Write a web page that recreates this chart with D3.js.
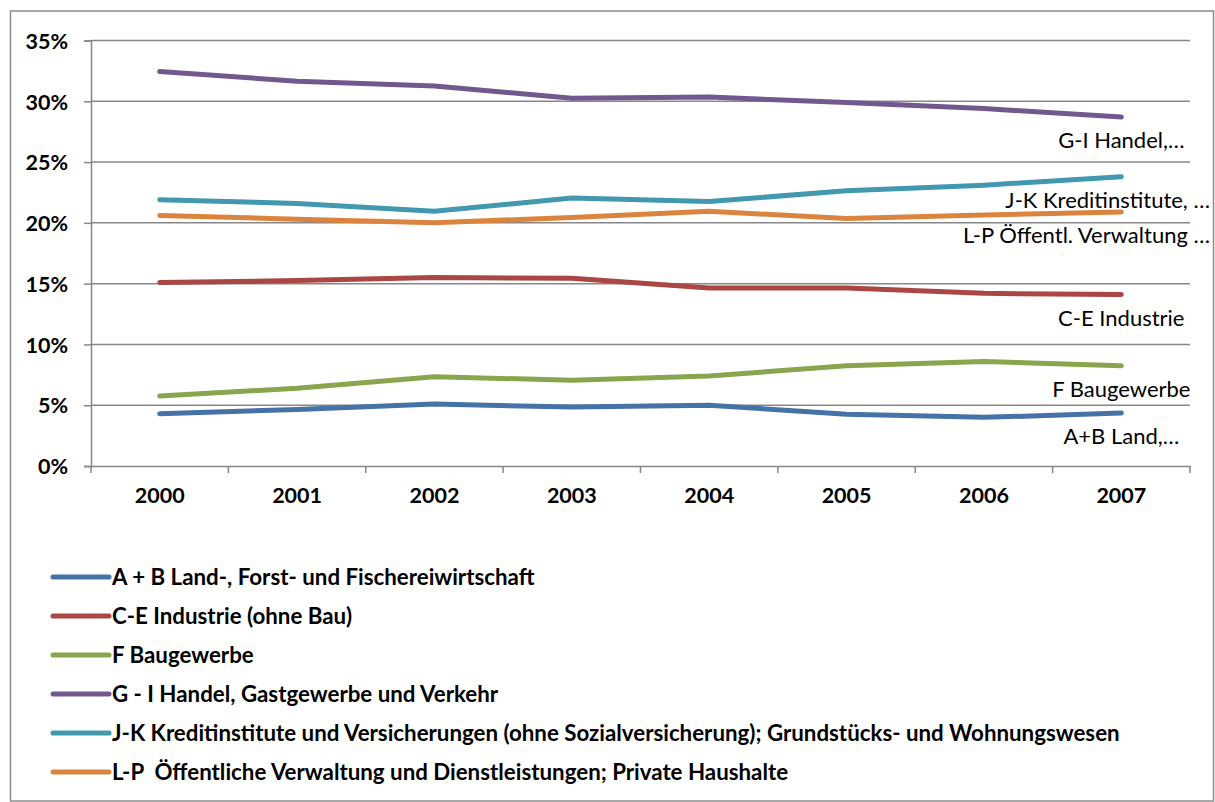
<!DOCTYPE html>
<html lang="de">
<head>
<meta charset="UTF-8">
<title>Anteile Wirtschaftsbereiche</title>
<script src="https://d3js.org/d3.v7.min.js"></script>
<style>
body { margin: 0; background: #fff; }
text { font-family: Lato, "Open Sans", sans-serif; fill: #000; }
.axislabel { font-weight: bold; font-size: 21.5px; }
.legend text { font-weight: bold; font-size: 22.3px; white-space: pre; }
.endlabel { font-size: 22px; }
</style>
</head>
<body>
<div id="chart"></div>
<script>
// data
const years = ['2000', '2001', '2002', '2003', '2004', '2005', '2006', '2007']
const yTicks = [0, 5, 10, 15, 20, 25, 30, 35]

const landForst   = [4.3, 4.65, 5.1, 4.85, 5.0, 4.25, 4.0, 4.35]
const industrie   = [15.1, 15.25, 15.5, 15.45, 14.65, 14.65, 14.2, 14.1]
const baugewerbe  = [5.75, 6.4, 7.35, 7.05, 7.4, 8.25, 8.6, 8.25]
const handel      = [32.45, 31.65, 31.25, 30.25, 30.35, 29.9, 29.4, 28.7]
const kredit      = [21.9, 21.6, 20.95, 22.05, 21.75, 22.65, 23.1, 23.8]
const verwaltung  = [20.6, 20.3, 20.0, 20.45, 20.95, 20.35, 20.65, 20.9]

const seriesNames = [
  'A + B Land-, Forst- und Fischereiwirtschaft',
  'C-E Industrie (ohne Bau)',
  'F Baugewerbe',
  'G - I Handel, Gastgewerbe und Verkehr',
  'J-K Kreditinstitute und Versicherungen (ohne Sozialversicherung); Grundstücks- und Wohnungswesen',
  'L-P  Öffentliche Verwaltung und Dienstleistungen; Private Haushalte'
]
const endLabels = ['A+B Land,…', 'C-E Industrie', 'F Baugewerbe', 'G-I Handel,…', 'J-K Kreditinstitute, …', 'L-P Öffentl. Verwaltung …']
const colors = ['#4572A7', '#AA4643', '#89A54E', '#71588F', '#4198AF', '#DB843D']

let series = [landForst, industrie, baugewerbe, handel, kredit, verwaltung].map((v, i) => ({
  name: seriesNames[i], label: endLabels[i], color: colors[i], values: v
}))

const width = 1215, height = 802
const plot = {left: 91, right: 1190, top: 40.5, bottom: 466}
let gridColor = '#878787'

let svg = d3.select('#chart').append('svg')
  .attr('width', width).attr('height', height)

// outer frame
svg.append('rect')
  .attr('x', 10.5).attr('y', 11).attr('width', 1203).attr('height', 790)
  .attr('fill', 'none').attr('stroke', '#8c8c8c').attr('stroke-width', 1.5)

let x = d3.scaleBand().domain(years).range([plot.left, plot.right])
let y = d3.scaleLinear().domain([0, 35]).range([plot.bottom, plot.top])

function drawGrid() {
  svg.append('g').selectAll('line')
    .data(yTicks.filter(d => d > 0))
    .join('line')
      .attr('x1', plot.left).attr('x2', plot.right)
      .attr('y1', d => y(d)).attr('y2', d => y(d))
      .attr('stroke', gridColor).attr('stroke-width', 1.5)
}

function drawYaxis() {
  let ax = svg.append('g')
    .attr('transform', 'translate(' + plot.left + ',0)')
    .call(d3.axisLeft(y).tickValues(yTicks).tickSize(7).tickPadding(16).tickFormat(d => d + '%'))
  ax.select('.domain').attr('stroke', gridColor).attr('stroke-width', 1.5)
  ax.selectAll('.tick line').attr('stroke', gridColor).attr('stroke-width', 1.5)
  ax.selectAll('.tick text').attr('class', 'axislabel').attr('dy', '0.36em')
}

function drawXaxis() {
  let ax = svg.append('g')
    .attr('transform', 'translate(0,' + plot.bottom + ')')
    .call(d3.axisBottom(x).tickSize(0).tickPadding(22))
  ax.select('.domain').attr('stroke', gridColor).attr('stroke-width', 1.5)
  ax.selectAll('.tick text').attr('class', 'axislabel')
  // tick marks at the category borders
  let borders = years.map(d => x(d)).concat([x(years[years.length - 1]) + x.bandwidth()])
  ax.append('g').selectAll('line')
    .data(borders)
    .join('line')
      .attr('x1', d => d).attr('x2', d => d)
      .attr('y1', 0).attr('y2', 7)
      .attr('stroke', gridColor).attr('stroke-width', 1.5)
}

function drawLines() {
  let line = d3.line()
    .x((d, i) => x(years[i]) + x.bandwidth() / 2)
    .y(d => y(d))
  svg.append('g').selectAll('path')
    .data(series)
    .join('path')
      .attr('fill', 'none')
      .attr('stroke', d => d.color)
      .attr('stroke-width', 5)
      .attr('stroke-linecap', 'round')
      .attr('stroke-linejoin', 'round')
      .attr('d', d => line(d.values))
}

function drawEndLabels() {
  let lastX = x(years[years.length - 1]) + x.bandwidth() / 2
  let g = svg.append('g')
  series.forEach(s => {
    let t = g.append('text')
      .attr('class', 'endlabel')
      .attr('x', lastX)
      .attr('y', y(s.values[s.values.length - 1]) + 31)
      .attr('text-anchor', 'middle')
      .text(s.label)
    // keep the label inside the frame like excel does
    let bb = t.node().getBBox()
    if (bb.x + bb.width > 1210) {
      t.attr('x', lastX - (bb.x + bb.width - 1210))
    }
  })
}

function drawLegend() {
  let lg = svg.append('g').attr('class', 'legend')
  let rows = lg.selectAll('g')
    .data(series)
    .join('g')
      .attr('transform', (d, i) => 'translate(0,' + (577 + i * 39) + ')')
  rows.append('line')
    .attr('x1', 53).attr('x2', 109)
    .attr('stroke', d => d.color).attr('stroke-width', 5)
    .attr('stroke-linecap', 'round')
  rows.append('text')
    .attr('x', 112).attr('dy', '0.35em')
    .text(d => d.name)
}

drawGrid()
drawYaxis()
drawXaxis()
drawLines()
drawEndLabels()
drawLegend()
</script>
</body>
</html>
